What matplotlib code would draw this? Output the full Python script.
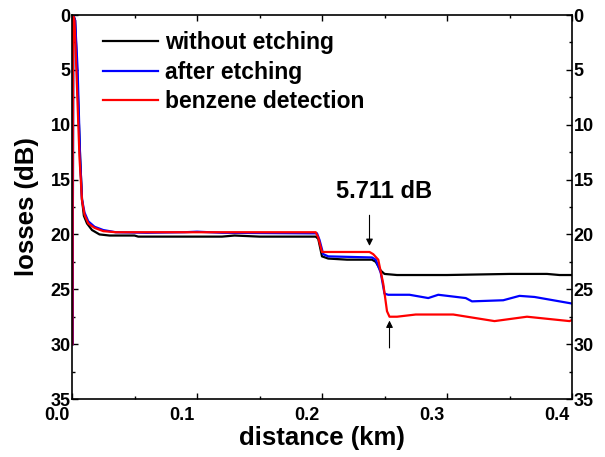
import matplotlib
matplotlib.use("Agg")
from matplotlib import pyplot as plt
from matplotlib.ticker import MultipleLocator
import matplotlib.transforms as mtransforms

plt.rcParams['font.family'] = ['Liberation Sans', 'DejaVu Sans']
plt.rcParams['font.weight'] = 'bold'

# OTDR traces: distance (km), losses (dB)
x_black = [0.0005, 0.001, 0.0025, 0.004, 0.0065, 0.008, 0.0095, 0.012, 0.016, 0.022,
           0.03, 0.05, 0.053, 0.1, 0.12, 0.13, 0.15, 0.18, 0.195, 0.197, 0.2, 0.205,
           0.22, 0.24, 0.243, 0.247, 0.25, 0.26, 0.3, 0.35, 0.38, 0.39, 0.4]
y_black = [30, 0, 0.5, 5, 13, 16.8, 18.3, 19.0, 19.6, 20.0,
           20.1, 20.1, 20.2, 20.2, 20.2, 20.1, 20.2, 20.2, 20.2, 20.4, 22.0, 22.2,
           22.3, 22.3, 22.5, 23.3, 23.6, 23.7, 23.7, 23.6, 23.6, 23.7, 23.7]

x_blue = [0.0005, 0.001, 0.0025, 0.0045, 0.0065, 0.008, 0.01, 0.013, 0.018, 0.025,
          0.035, 0.06, 0.09, 0.1, 0.12, 0.19, 0.196, 0.198, 0.201, 0.205, 0.24, 0.243,
          0.247, 0.25, 0.253, 0.27, 0.285, 0.293, 0.315, 0.32, 0.345, 0.358, 0.37, 0.4]
y_blue = [30, 0, 0.5, 5, 13, 16.8, 18.0, 18.8, 19.3, 19.6,
          19.8, 19.85, 19.8, 19.75, 19.85, 19.9, 19.9, 20.5, 21.8, 22.0, 22.1, 22.3,
          23.5, 25.4, 25.5, 25.5, 25.8, 25.5, 25.8, 26.1, 26.0, 25.6, 25.7, 26.3]

x_red = [0.0003, 0.0008, 0.002, 0.0035, 0.006, 0.008, 0.01, 0.013, 0.018, 0.025,
         0.035, 0.06, 0.1, 0.19, 0.195, 0.197, 0.2, 0.238, 0.241, 0.245, 0.249, 0.252,
         0.254, 0.26, 0.275, 0.305, 0.338, 0.364, 0.398, 0.4]
y_red = [30, 0, 0.5, 5, 13, 16.9, 18.2, 19.0, 19.4, 19.7,
         19.8, 19.8, 19.8, 19.8, 19.8, 20.3, 21.6, 21.6, 21.8, 22.3, 24.5, 27.0,
         27.5, 27.5, 27.3, 27.3, 27.9, 27.5, 27.9, 27.8]

labels = ['without etching', 'after etching', 'benzene detection']
colors = ['black', 'blue', 'red']
x_ticks = [0.0, 0.1, 0.2, 0.3, 0.4]
x_ticklabels = ['0.0', '0.1', '0.2', '0.3', '0.4']

fig = plt.figure(figsize=(6.05, 4.57), dpi=100)
ax = fig.add_axes([72/605, 1-399/457, 500/605, 384/457])

ax.plot(x_black, y_black, color=colors[0], lw=1.6, label=labels[0])
ax.plot(x_blue, y_blue, color=colors[1], lw=1.6, label=labels[1])
ax.plot(x_red, y_red, color=colors[2], lw=1.6, label=labels[2])

ax.set_xlim(0, 0.4)
ax.set_ylim(35, 0)
ax.set_xticks(x_ticks)
ax.set_xticklabels(x_ticklabels)
ax.xaxis.set_minor_locator(MultipleLocator(0.05))
ax.yaxis.set_major_locator(MultipleLocator(5))
ax.yaxis.set_minor_locator(MultipleLocator(2.5))
ax.tick_params(which='both', direction='in', top=True, right=True,
               labelright=True, labelsize=13, width=1, pad=1)
ax.tick_params(axis='x', pad=6)
ax.tick_params(which='major', length=4)
ax.tick_params(which='minor', length=2.5)
off = mtransforms.ScaledTranslation(-15/100, 0, fig.dpi_scale_trans)
for t in ax.get_xticklabels():
    t.set_transform(t.get_transform() + off)
for t in ax.get_xticklabels() + ax.get_yticklabels():
    t.set_fontweight('bold')
for s in ax.spines.values():
    s.set_linewidth(1.2)

ax.set_xlabel('distance (km)', fontsize=18.5, fontweight='bold')
ax.set_ylabel('losses (dB)', fontsize=18.5, fontweight='bold')
ax.xaxis.set_label_coords(0.5, -0.07)
ax.yaxis.set_label_coords(-0.066, 0.5)

leg = ax.legend(loc='upper left', bbox_to_anchor=(0.035, 0.995), frameon=False,
                prop={'size': 16.5, 'weight': 'bold'}, handlelength=2.4,
                handletextpad=0.3, labelspacing=0.3, borderaxespad=0.2)

ax.annotate('', xy=(0.238, 21.3), xytext=(0.238, 18.0),
            arrowprops=dict(arrowstyle='-|>', color='black', lw=0.8, mutation_scale=10))
ax.annotate('', xy=(0.254, 27.6), xytext=(0.254, 30.6),
            arrowprops=dict(arrowstyle='-|>', color='black', lw=0.8, mutation_scale=10))
ax.text(0.25, 16.1, '5.711 dB', fontsize=17, fontweight='bold', ha='center', va='center')

fig.savefig('out.png', dpi=100)
